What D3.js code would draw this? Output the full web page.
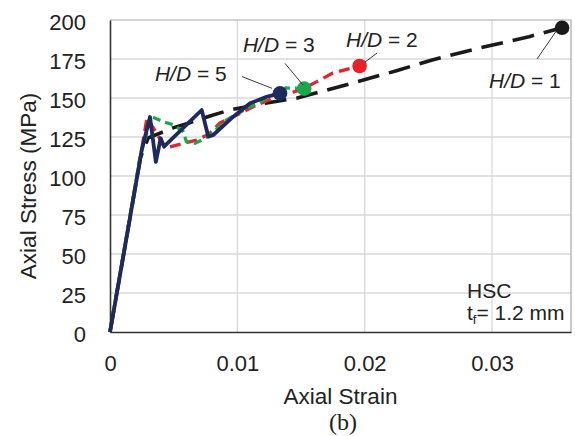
<!DOCTYPE html>
<html><head><meta charset="utf-8">
<script src="https://cdn.jsdelivr.net/npm/d3@7"></script>
<style>body{margin:0;background:#fff}svg{display:block;font-family:"Liberation Sans",Arial,sans-serif}</style>
</head><body><svg id="c" width="575" height="436"></svg>
<script>
// ---- data ----
const xTicks = [0, 0.01, 0.02, 0.03];
const xTickLabels = ["0", "0.01", "0.02", "0.03"];
const yTicks = [0, 25, 50, 75, 100, 125, 150, 175, 200];
const seriesNames = ["H/D = 1", "H/D = 2", "H/D = 3", "H/D = 5"];
const seriesColors = ["#1a1a1a", "#e8212b", "#1aa84a", "#1e2a5c"];

const hd1Strain = [0, 0.0024, 0.0030, 0.0050, 0.00615, 0.00785, 0.0094, 0.0123, 0.0147, 0.0170, 0.0199, 0.0225, 0.0253, 0.0290, 0.0329, 0.0355];
const hd1Stress = [0, 112, 124.4, 131, 133.8, 138.5, 142.3, 146.8, 150, 155, 161.5, 167.5, 174.4, 182, 189.3, 195];

const hd2Strain = [0, 0.0012, 0.0024, 0.0029, 0.0035, 0.0042, 0.0047, 0.0058, 0.0068, 0.0078, 0.0086, 0.0102, 0.0115, 0.0130, 0.0149, 0.01625, 0.0175, 0.0196];
const hd2Stress = [0, 57, 113, 137, 129.5, 120, 118.6, 121, 123, 127, 133.8, 140, 145.5, 150.5, 155, 160.5, 166, 170.5];

const hd3Strain = [0, 0.0012, 0.0024, 0.00327, 0.0042, 0.0050, 0.00576, 0.0060, 0.00667, 0.0072, 0.00785, 0.00916, 0.0110, 0.01256, 0.0138, 0.01525];
const hd3Stress = [0, 57, 114, 138, 134.8, 132.7, 128.4, 122, 121, 123, 126.3, 136, 144.4, 150.8, 156.5, 156];

const hd5Strain = [0, 0.00125, 0.0025, 0.00314, 0.0036, 0.00398, 0.00424, 0.0072, 0.00772, 0.00811, 0.00968, 0.0110, 0.0123, 0.01335];
const hd5Stress = [0, 58, 117, 137.8, 109, 124.2, 118.8, 142.3, 125.2, 126.3, 138, 146.6, 150.8, 153];

// annotation: [textStrain, textStress, leaderFromStrain, leaderFromStress, leaderToStrain, leaderToStress]
const labelPos = [
  [0.02976, 156.7, 0.03353, 175, 0.0351, 193.6],
  [0.01853, 182.4, 0.02097, 178.8, 0.02002, 173],
  [0.01044, 179.7, 0.01374, 172.2, 0.01516, 158.3],
  [0.00353, 161, 0.01037, 163.7, 0.01272, 156.2]
];

// ---- chart ----
const svg = d3.select("#c");
const L = 110, R = 571, T = 20, B = 332;
const x = d3.scaleLinear().domain([0, 0.0362]).range([L, R]);
const y = d3.scaleLinear().domain([0, 200]).range([B, T]);

// grid
svg.append("g").selectAll("line").data(yTicks.filter(d => d > 0 && d < 200)).join("line")
  .attr("x1", L).attr("x2", R).attr("y1", d => y(d)).attr("y2", d => y(d))
  .attr("stroke", "#d9d9d9").attr("stroke-width", 1.3);
svg.append("g").selectAll("line").data(xTicks.filter(d => d > 0)).join("line")
  .attr("y1", T).attr("y2", B).attr("x1", d => x(d)).attr("x2", d => x(d))
  .attr("stroke", "#d9d9d9").attr("stroke-width", 1.3);
// frame top/right
svg.append("path").attr("d", `M${L},${T}H${R}V${B}`).attr("fill", "none").attr("stroke", "#a8a8a8").attr("stroke-width", 1.2);

// axes
const xAxis = svg.append("g").attr("transform", `translate(0,${B})`)
  .call(d3.axisBottom(x).tickValues(xTicks).tickFormat((d, i) => xTickLabels[i]).tickSize(0).tickPadding(23));
const yAxis = svg.append("g").attr("transform", `translate(${L},0)`)
  .call(d3.axisLeft(y).tickValues(yTicks).tickSize(0).tickPadding(24));
[xAxis, yAxis].forEach(a => {
  a.select(".domain").attr("stroke", "#333").attr("stroke-width", 1.6);
  a.selectAll("text").attr("font-size", 22).attr("fill", "#222").attr("font-family", '"Liberation Sans",Arial,sans-serif');
});
yAxis.selectAll("text").attr("dy", "0.42em");

// series
const series = [
  { s: hd1Strain, v: hd1Stress, dash: "22,10", w: 3.6 },
  { s: hd2Strain, v: hd2Stress, dash: "11,6", w: 3.3 },
  { s: hd3Strain, v: hd3Stress, dash: "8,5", w: 3.3 },
  { s: hd5Strain, v: hd5Stress, dash: null, w: 3.8 }
];
const line = d3.line().x(d => x(d[0])).y(d => y(d[1]));
series.forEach((sr, i) => {
  const pts = sr.s.map((e, k) => [e, sr.v[k]]);
  svg.append("path").datum(pts).attr("d", line).attr("fill", "none")
    .attr("stroke", seriesColors[i]).attr("stroke-width", sr.w)
    .attr("stroke-linejoin", "round")
    .attr("stroke-dasharray", sr.dash);
});
// end dots
series.forEach((sr, i) => {
  const n = sr.s.length - 1;
  svg.append("circle").attr("cx", x(sr.s[n])).attr("cy", y(sr.v[n])).attr("r", 7.3).attr("fill", seriesColors[i]);
});

// labels + leaders
labelPos.forEach((p, i) => {
  svg.append("line").attr("x1", x(p[2])).attr("y1", y(p[3])).attr("x2", x(p[4])).attr("y2", y(p[5]))
    .attr("stroke", "#222").attr("stroke-width", 0.9);
  const parts = seriesNames[i].split(" = ");
  const t = svg.append("text").attr("x", x(p[0])).attr("y", y(p[1])).attr("font-size", 21).attr("fill", "#222");
  t.append("tspan").attr("font-style", "italic").text(parts[0]);
  t.append("tspan").text(" = " + parts[1]);
});

// annotation
svg.append("text").attr("x", 467).attr("y", 298).attr("font-size", 21).attr("fill", "#222").text("HSC");
const tf = svg.append("text").attr("x", 467).attr("y", 320).attr("font-size", 21).attr("fill", "#222");
tf.append("tspan").text("t");
tf.append("tspan").attr("font-size", 13).attr("dy", 4).text("f");
tf.append("tspan").attr("dy", -4).text("= 1.2 mm");

// axis titles
svg.append("text").attr("x", (L + R) / 2).attr("y", 404).attr("text-anchor", "middle").attr("font-size", 22.5).attr("fill", "#222").text("Axial Strain");
svg.append("text").attr("transform", `translate(36,${(T + B) / 2 + 10}) rotate(-90)`).attr("text-anchor", "middle").attr("font-size", 22.5).attr("fill", "#222").text("Axial Stress (MPa)");
svg.append("text").attr("x", 343).attr("y", 430).attr("text-anchor", "middle").attr("font-size", 24).attr("fill", "#222").attr("font-family", '"Liberation Serif","Times New Roman",serif').text("(b)");
</script></body></html>
